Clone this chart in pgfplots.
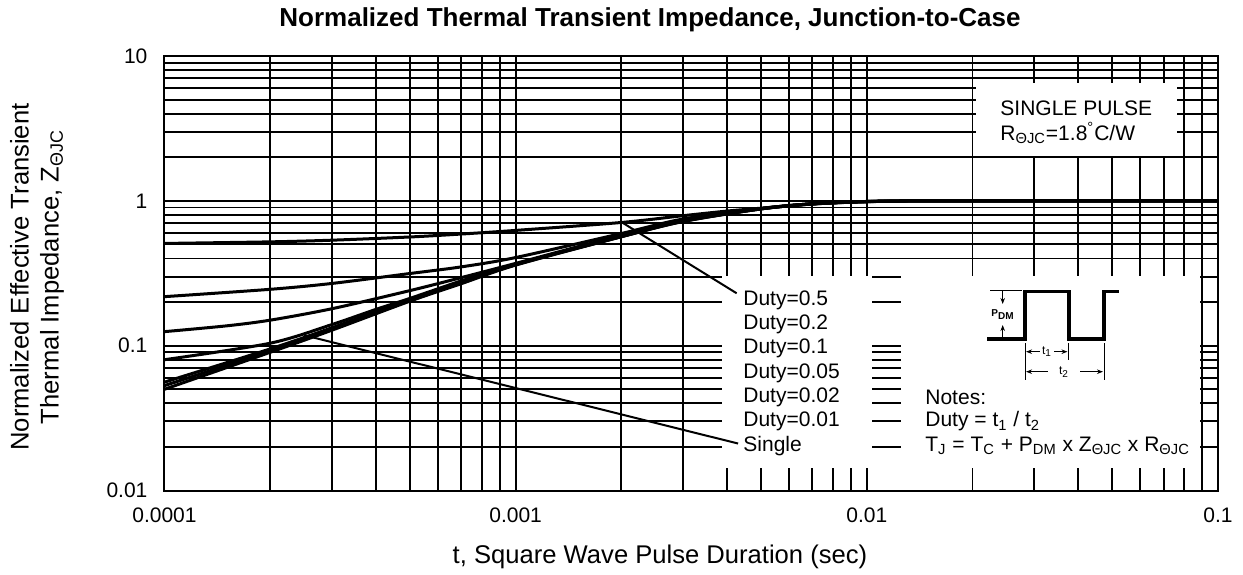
\documentclass[border=0pt]{standalone}
\usepackage{fontspec}
\setmainfont{Liberation Sans}
\usepackage{pgfplots}
\pgfplotsset{compat=1.18}
\usetikzlibrary{arrows.meta}

\begin{document}
\begin{tikzpicture}
% frame of 1243 x 574 px, 0.5pt per px
\useasboundingbox (0,0) rectangle (621.5pt,287pt);
\begin{axis}[
    at={(82.25pt,41.75pt)}, anchor=south west,
    scale only axis,
    width=526.75pt, height=217.25pt,
    xmode=log, ymode=log,
    xmin=1e-4, xmax=0.1, ymin=0.01, ymax=10,
    xtick={0.0001,0.001,0.01,0.1},
    xticklabels={0.0001,0.001,0.01,0.1},
    ytick={0.01,0.1,1,10},
    yticklabels={0.01,0.1,1,10},
    minor xtick={2e-4,3e-4,4e-4,5e-4,6e-4,7e-4,8e-4,9e-4,
                 2e-3,3e-3,4e-3,5e-3,6e-3,7e-3,8e-3,9e-3,
                 2e-2,3e-2,4e-2,5e-2,6e-2,7e-2,8e-2,9e-2},
    minor ytick={0.02,0.03,0.04,0.05,0.06,0.07,0.08,0.09,
                 0.2,0.3,0.4,0.5,0.6,0.7,0.8,0.9,
                 2,3,4,5,6,7,8,9},
    grid=both,
    major grid style={black, line width=0.95pt},
    minor grid style={black, line width=0.95pt},
    axis line style={black, line width=1pt},
    major tick length=0pt, minor tick length=0pt,
    tick label style={font=\fontsize{10.5}{12}\selectfont},
    xticklabel style={yshift=-5pt},
    yticklabel style={xshift=-5pt},
]
% white boxes behind the labels and notes
\fill[white] (axis cs:3.86e-3,0.0142) rectangle (axis cs:1.037e-2,0.305);
\fill[white] (axis cs:1.253e-2,0.0142) rectangle (axis cs:0.0890,0.305);
\fill[white] (axis cs:0.0205,2.03) rectangle (axis cs:0.0765,6.5);

% Duty=0.5
\addplot[black, line width=1.5pt, smooth] coordinates {
    (1e-4,0.508) (2e-4,0.521) (3e-4,0.535) (5e-4,0.563) (7e-4,0.59)
    (1e-3,0.625) (2e-3,0.709) (3e-3,0.79) (4e-3,0.85) (5e-3,0.89)
    (7e-3,0.955) (1e-2,0.99) (1.5e-2,1.0) (3e-2,1.0) (0.1,1.0)
};
% Duty=0.2
\addplot[black, line width=1.5pt, smooth] coordinates {
    (1e-4,0.218) (2e-4,0.245) (3e-4,0.269) (5e-4,0.315) (7e-4,0.35)
    (1e-3,0.406) (2e-3,0.595) (3e-3,0.75) (5e-3,0.885)
    (7e-3,0.955) (1e-2,0.99) (1.5e-2,1.0) (3e-2,1.0) (0.1,1.0)
};
% Duty=0.1
\addplot[black, line width=1.5pt, smooth] coordinates {
    (1e-4,0.125) (1.5e-4,0.137) (2e-4,0.150) (3e-4,0.180) (5e-4,0.24)
    (7e-4,0.295) (1e-3,0.37) (2e-3,0.58) (3e-3,0.74) (5e-3,0.885)
    (7e-3,0.955) (1e-2,0.99) (1.5e-2,1.0) (3e-2,1.0) (0.1,1.0)
};
% Duty=0.05
\addplot[black, line width=1.5pt, smooth] coordinates {
    (1e-4,0.080) (2e-4,0.104) (3e-4,0.14) (4e-4,0.178) (5e-4,0.212)
    (7e-4,0.28) (1e-3,0.366) (2e-3,0.57) (3e-3,0.73) (5e-3,0.882)
    (7e-3,0.953) (1e-2,0.99) (1.5e-2,1.0) (3e-2,1.0) (0.1,1.0)
};
% Duty=0.02
\addplot[black, line width=1.5pt, smooth] coordinates {
    (1e-4,0.056) (2e-4,0.095) (3e-4,0.133) (5e-4,0.208) (7e-4,0.272)
    (1e-3,0.364) (2e-3,0.567) (3e-3,0.725) (5e-3,0.88)
    (7e-3,0.952) (1e-2,0.988) (1.5e-2,1.0) (3e-2,1.0) (0.1,1.0)
};
% Duty=0.01
\addplot[black, line width=1.5pt, smooth] coordinates {
    (1e-4,0.053) (2e-4,0.092) (3e-4,0.13) (5e-4,0.205) (7e-4,0.27)
    (1e-3,0.362) (2e-3,0.566) (3e-3,0.722) (5e-3,0.88)
    (7e-3,0.951) (1e-2,0.987) (1.5e-2,1.0) (3e-2,1.0) (0.1,1.0)
};
% Single pulse
\addplot[black, line width=1.5pt, smooth] coordinates {
    (1e-4,0.050) (2e-4,0.090) (3e-4,0.128) (5e-4,0.203) (7e-4,0.268)
    (1e-3,0.36) (2e-3,0.565) (3e-3,0.72) (5e-3,0.88)
    (7e-3,0.95) (1e-2,0.986) (1.5e-2,1.0) (3e-2,1.0) (0.1,1.0)
};

% leader lines
\addplot[black, line width=1pt] coordinates {(2.01e-3,0.709) (4.26e-3,0.23)};
\addplot[black, line width=1pt] coordinates {(2.5e-4,0.118) (4.3e-3,0.0211)};
\end{axis}

\begin{scope}[x=0.5pt, y=-0.5pt, shift={(0pt,287pt)}]
\node[font=\bfseries\fontsize{13}{15}\selectfont] at (650,20)
    {Normalized Thermal Transient Impedance, Junction-to-Case};
\node[font=\fontsize{12.8}{15}\selectfont] at (660,557)
    {t, Square Wave Pulse Duration (sec)};
\node[rotate=90, align=center, font=\fontsize{12.8}{15}\selectfont] at (37,277)
    {Normalized Effective Transient\\Thermal Impedance, Z\textsubscript{ΘJC}};

\begin{scope}[every node/.style={anchor=west, inner sep=0pt,
        font=\fontsize{10.5}{12}\selectfont}]
\node at (743,300) {Duty=0.5};
\node at (743,324.3) {Duty=0.2};
\node at (743,348.6) {Duty=0.1};
\node at (743,372.9) {Duty=0.05};
\node at (743,397.2) {Duty=0.02};
\node at (743,421.5) {Duty=0.01};
\node at (743,445.8) {Single};

\node at (925,397.2) {Notes:};
\node at (925,421.5) {Duty = t\textsubscript{1} / t\textsubscript{2}};
\node at (925,445.8) {T\textsubscript{J} = T\textsubscript{C} + P\textsubscript{DM} x Z\textsubscript{ΘJC} x R\textsubscript{ΘJC}};

\node at (1000,108.3) {SINGLE PULSE};
\node at (1000,133.3) {R\textsubscript{ΘJC}=1.8\textsuperscript{°}C/W};
\end{scope}

% pulse sketch
\draw[line width=1.6pt] (987,339) -- (1025,339) -- (1025,291.7) -- (1069,291.7)
    -- (1069,339) -- (1104,339) -- (1104,291.7) -- (1119,291.7);
\draw[line width=0.4pt] (990,290.7) -- (1022,290.7);
\draw[line width=0.5pt, -{Stealth[length=3pt]}] (1002.7,291) -- (1002.7,304);
\draw[line width=0.5pt, -{Stealth[length=3pt]}] (1002.7,339) -- (1002.7,325);
\node[font=\bfseries\fontsize{5}{6}\selectfont, inner sep=0pt] at (1003,314.5) {P\textsubscript{DM}};
\draw[line width=0.5pt] (1025,343) -- (1025,380) (1068.5,343) -- (1068.5,360)
    (1104,343) -- (1104,380);
\draw[line width=0.5pt, {Stealth[length=3pt]}-] (1026,351.7) -- (1040,351.7);
\node[font=\fontsize{6}{7}\selectfont, inner sep=0pt] at (1047,351.7) {t\textsubscript{1}};
\draw[line width=0.5pt, -{Stealth[length=3pt]}] (1054,351.7) -- (1067.5,351.7);
\draw[line width=0.5pt, {Stealth[length=3pt]}-] (1026,371.7) -- (1048,371.7);
\node[font=\fontsize{6}{7}\selectfont, inner sep=0pt] at (1064,371.7) {t\textsubscript{2}};
\draw[line width=0.5pt, -{Stealth[length=3pt]}] (1080,371.7) -- (1103,371.7);
\end{scope}
\end{tikzpicture}
\end{document}
